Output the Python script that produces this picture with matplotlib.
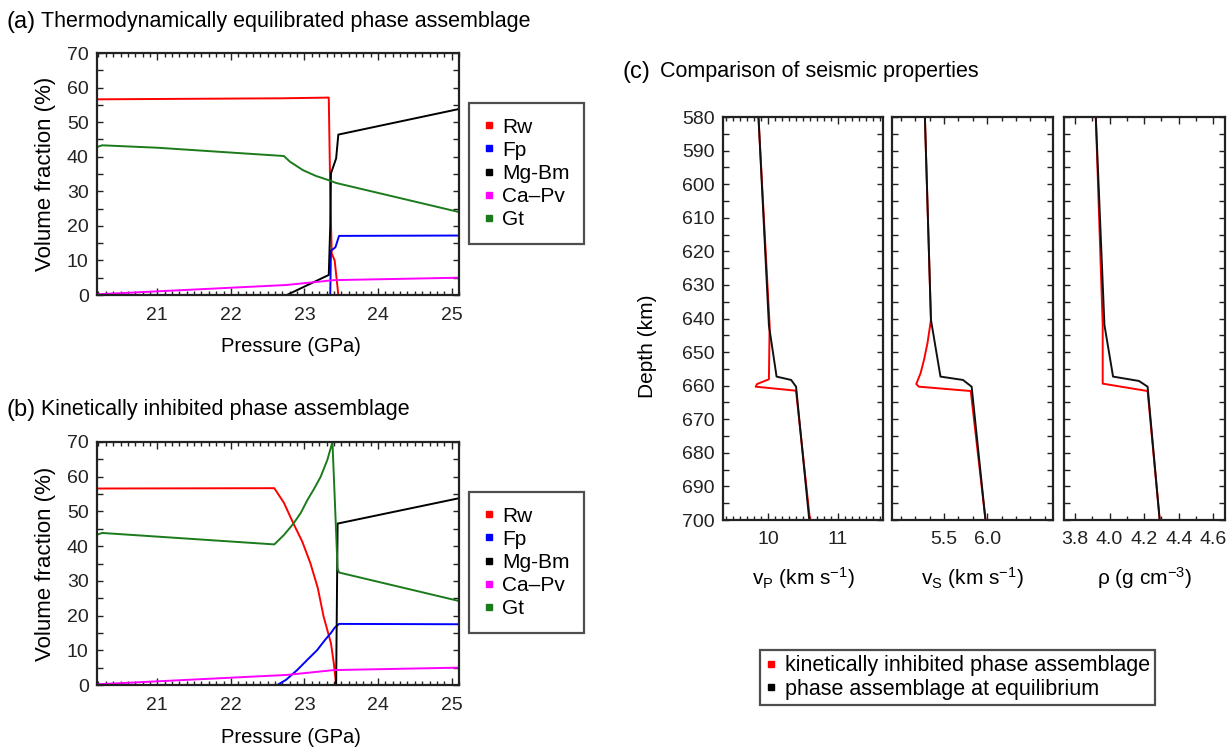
import numpy as np
import matplotlib
matplotlib.use("Agg")
import matplotlib.pyplot as plt
from matplotlib.ticker import MultipleLocator, FixedLocator, FormatStrFormatter
from matplotlib.lines import Line2D

plt.rcParams["font.family"] = ["Liberation Sans", "DejaVu Sans"]
plt.rcParams["mathtext.default"] = "regular"

# ---- panel (a): thermodynamically equilibrated ----
p_rw_a = [20.18, 22.7, 23.33, 23.35, 23.37, 23.41, 23.46]
rw_a = [56.6, 56.9, 57.1, 30.0, 12.0, 10.0, 0.0]
p_fp_a = [20.18, 23.35, 23.36, 23.42, 23.47, 25.1]
fp_a = [0.0, 0.0, 12.8, 13.8, 17.1, 17.2]
p_bm_a = [20.18, 22.76, 23.33, 23.35, 23.36, 23.43, 23.46, 25.1]
bm_a = [0.0, 0.0, 5.8, 20.0, 35.2, 39.5, 46.4, 53.8]
p_pv = [20.18, 22.76, 23.4, 25.1]
pv = [0.2, 2.9, 4.3, 5.0]
p_gt_a = [20.18, 20.25, 21.0, 22.0, 22.72, 22.8, 22.98, 23.16, 23.36, 23.43, 25.1]
gt_a = [42.8, 43.3, 42.6, 41.2, 40.2, 38.6, 36.1, 34.4, 33.0, 32.4, 24.0]

# ---- panel (b): kinetically inhibited ----
p_rw_b = [20.18, 22.59, 22.72, 22.85, 22.97, 23.08, 23.18, 23.26, 23.36, 23.40, 23.43]
rw_b = [56.6, 56.7, 52.5, 46.5, 41.3, 35.1, 28.0, 19.7, 12.0, 6.0, 0.0]
p_fp_b = [20.18, 22.63, 22.75, 22.9, 23.05, 23.17, 23.28, 23.36, 23.41, 23.47, 25.1]
fp_b = [0.0, 0.0, 1.5, 4.3, 7.5, 10.0, 13.0, 15.0, 16.5, 17.6, 17.5]
p_bm_b = [20.18, 23.43, 23.45, 25.1]
bm_b = [0.0, 0.0, 46.5, 53.8]
p_gt_b = [20.18, 20.25, 22.59, 22.72, 22.85, 22.95, 23.04, 23.13, 23.22, 23.31, 23.38, 23.45, 23.47, 25.1]
gt_b = [43.3, 43.8, 40.5, 43.2, 46.5, 49.6, 53.3, 56.5, 60.0, 64.8, 70.0, 33.5, 32.4, 24.2]

phases = ["Rw", "Fp", "Mg-Bm", "Ca\u2013Pv", "Gt"]
phase_colors = ["#ff0000", "#0000ff", "#000000", "#ff00ff", "#1b7a1b"]

# ---- panel (c): seismic properties ----
depth_vp_eq = [580, 642, 657.3, 658.3, 660.3, 700]
vp_eq = [9.86, 10.01, 10.12, 10.33, 10.40, 10.59]
depth_vp_kin = [580, 642, 658.1, 659.5, 660.3, 661.5, 700]
vp_kin = [9.86, 10.02, 10.01, 9.84, 9.82, 10.40, 10.60]

depth_vs_eq = [580, 640.4, 657.3, 658.3, 660.3, 700]
vs_eq = [5.28, 5.35, 5.46, 5.72, 5.82, 5.98]
depth_vs_kin = [580, 640.4, 647.3, 652.3, 656.3, 659.5, 660.3, 661.6, 700]
vs_kin = [5.28, 5.35, 5.31, 5.27, 5.23, 5.18, 5.21, 5.81, 5.98]

depth_rho_eq = [580, 641.9, 657.3, 658.6, 660.3, 700]
rho_eq = [3.92, 3.97, 4.02, 4.17, 4.22, 4.29]
depth_rho_kin = [580, 641.9, 659.4, 661.6, 700]
rho_kin = [3.92, 3.96, 3.96, 4.22, 4.29]

vp_ticks = [10, 11]
vs_ticks = [5.5, 6.0]
rho_ticks = [3.8, 4.0, 4.2, 4.4, 4.6]

W, H = 1231, 750
fig = plt.figure(figsize=(W / 100, H / 100), dpi=100)


def rect(l, r, t, b):
    return [l / W, 1 - b / H, (r - l) / W, (b - t) / H]


def style(ax):
    for s in ax.spines.values():
        s.set_linewidth(1.6)
        s.set_color("#222222")
    ax.tick_params(which="both", direction="in", top=True, right=True,
                   labelsize=14, colors="#222222", width=1.0)
    ax.tick_params(which="major", length=5, pad=6)
    ax.tick_params(which="minor", length=3)


def phase_panel(ax, data, leg_top):
    for (px, py), lab, c in zip(data, phases, phase_colors):
        ax.plot(px, py, color=c, lw=1.4)
    ax.set_xlim(20.18, 25.1)
    ax.set_ylim(0, 70)
    ax.xaxis.set_major_locator(MultipleLocator(1))
    ax.xaxis.set_minor_locator(MultipleLocator(0.1))
    ax.yaxis.set_major_locator(MultipleLocator(10))
    ax.yaxis.set_minor_locator(MultipleLocator(5))
    style(ax)
    ax.tick_params(axis="y", which="both", length=4)
    ax.tick_params(axis="x", which="major", pad=9)
    ax.set_xlabel("Pressure (GPa)", fontsize=14.5)
    ax.xaxis.set_label_coords(0.535, -0.175)
    ax.set_ylabel("Volume fraction (%)", fontsize=16, labelpad=8)
    handles = [Line2D([], [], ls="none", marker="s", ms=5, color=c) for c in phase_colors]
    leg = fig.legend(handles, phases, loc="upper left",
                     bbox_to_anchor=(469 / W, 1 - leg_top / H),
                     bbox_transform=fig.transFigure, fontsize=15,
                     frameon=True, fancybox=False, borderaxespad=0,
                     handlelength=0.5, handletextpad=0.4, labelspacing=0.2,
                     borderpad=0.7)
    leg.get_frame().set_edgecolor("#222222")
    leg.get_frame().set_linewidth(1.6)


ax_a = fig.add_axes(rect(97, 459, 53, 295))
phase_panel(ax_a, [(p_rw_a, rw_a), (p_fp_a, fp_a), (p_bm_a, bm_a), (p_pv, pv), (p_gt_a, gt_a)], 103)

ax_b = fig.add_axes(rect(97, 459, 442, 685))
phase_panel(ax_b, [(p_rw_b, rw_b), (p_fp_b, fp_b), (p_bm_b, bm_b), (p_pv, pv), (p_gt_b, gt_b)], 492)

# panel titles
fig.text(7 / W, 1 - 22 / H, "(a)", fontsize=17, va="center")
fig.text(41 / W, 1 - 22 / H, "Thermodynamically equilibrated phase assemblage", fontsize=15.5, va="center")
fig.text(7 / W, 1 - 410 / H, "(b)", fontsize=17, va="center")
fig.text(41 / W, 1 - 410 / H, "Kinetically inhibited phase assemblage", fontsize=15.5, va="center")
fig.text(622 / W, 1 - 72 / H, "(c)", fontsize=17, va="center")
fig.text(660 / W, 1 - 72 / H, "Comparison of seismic properties", fontsize=15.5, va="center")

# seismic panels
ax_vp = fig.add_axes(rect(723, 883, 117, 520))
ax_vs = fig.add_axes(rect(892, 1053, 117, 520))
ax_rho = fig.add_axes(rect(1064, 1225, 117, 520))

seis = [
    (ax_vp, vp_kin, depth_vp_kin, vp_eq, depth_vp_eq, (9.35, 11.65), vp_ticks, MultipleLocator(0.1),
     r"v$_{P}$ (km s$^{-1}$)"),
    (ax_vs, vs_kin, depth_vs_kin, vs_eq, depth_vs_eq, (4.9, 6.76), vs_ticks, MultipleLocator(1 / 6),
     r"v$_{S}$ (km s$^{-1}$)"),
    (ax_rho, rho_kin, depth_rho_kin, rho_eq, depth_rho_eq, (3.736, 4.668), rho_ticks, MultipleLocator(0.1),
     "\u03c1 (g cm$^{-3}$)"),
]
for ax, xk, dk, xe, de, lim, ticks, minloc, lab in seis:
    ax.plot(xk, dk, color="#ff0000", lw=1.4)
    ax.plot(xe, de, color="#111111", lw=1.4)
    ax.set_xlim(*lim)
    ax.set_ylim(700, 580)
    ax.xaxis.set_major_locator(FixedLocator(ticks))
    ax.xaxis.set_minor_locator(minloc)
    ax.yaxis.set_major_locator(MultipleLocator(10))
    ax.yaxis.set_minor_locator(MultipleLocator(5))
    style(ax)
    ax.tick_params(axis="y", which="both", length=4)
    ax.tick_params(axis="x", which="major", pad=8)
    ax.set_xlabel(lab, fontsize=15, labelpad=12)
    if ax is not ax_vp:
        ax.tick_params(axis="y", labelleft=False)

ax_vs.xaxis.set_major_formatter(FormatStrFormatter("%.1f"))
ax_rho.xaxis.set_major_formatter(FormatStrFormatter("%.1f"))
ax_vp.set_ylabel("Depth (km)", fontsize=15)
ax_vp.yaxis.set_label_coords(-0.41, 0.43)

seis_handles = [Line2D([], [], ls="none", marker="s", ms=5, color="#ff0000"),
                Line2D([], [], ls="none", marker="s", ms=5, color="#000000")]
leg_c = fig.legend(seis_handles, ["kinetically inhibited phase assemblage",
                                  "phase assemblage at equilibrium"],
                   loc="upper left", bbox_to_anchor=(760 / W, 1 - 650 / H),
                   bbox_transform=fig.transFigure, fontsize=15.5, frameon=True,
                   fancybox=False, borderaxespad=0, handlelength=0.5,
                   handletextpad=0.4, labelspacing=0.1, borderpad=0.25)
leg_c.get_frame().set_edgecolor("#222222")
leg_c.get_frame().set_linewidth(1.6)

fig.savefig("out.png", dpi=100)
